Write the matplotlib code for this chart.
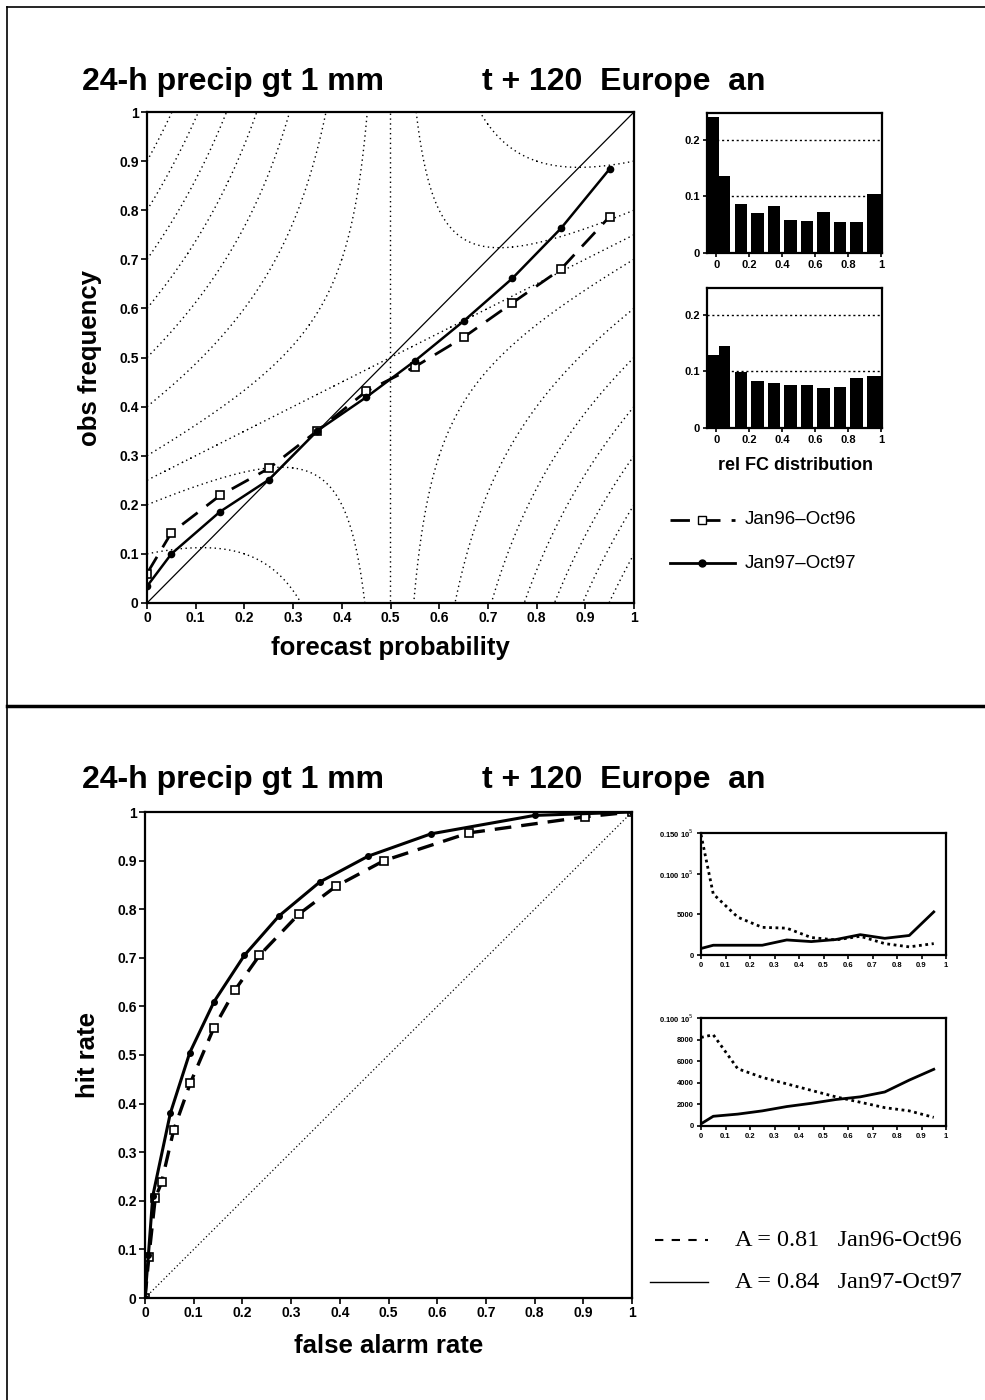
import numpy as np
import matplotlib
matplotlib.use("Agg")
import matplotlib.pyplot as plt
from matplotlib.lines import Line2D

plt.rcParams['font.family'] = ['Liberation Sans', 'DejaVu Sans']

# ---- reliability diagram data
fc_prob = [0, 0.05, 0.15, 0.25, 0.35, 0.45, 0.55, 0.65, 0.75, 0.85, 0.95]
obs_96 = [0.06, 0.143, 0.219, 0.274, 0.351, 0.431, 0.481, 0.541, 0.611, 0.680, 0.787]
obs_97 = [0.034, 0.100, 0.186, 0.251, 0.351, 0.419, 0.493, 0.574, 0.661, 0.763, 0.884]

# relative forecast distribution (insets)
hist_pos = [-0.02, 0.05, 0.15, 0.25, 0.35, 0.45, 0.55, 0.65, 0.75, 0.85, 0.958]
hist_w = [0.07, 0.07, 0.077, 0.077, 0.077, 0.077, 0.077, 0.077, 0.077, 0.077, 0.085]
freq_96 = [0.240, 0.135, 0.086, 0.070, 0.083, 0.059, 0.056, 0.073, 0.055, 0.055, 0.104]
freq_97 = [0.129, 0.144, 0.099, 0.083, 0.079, 0.075, 0.075, 0.071, 0.073, 0.088, 0.092]

# isoline levels of (p-o)^2 - (o-clim)^2
iso_levels = [-0.15, -0.05, 0, 0.05, 0.15, 0.25, 0.35, 0.45, 0.55, 0.65]
clim = 0.5

# ---- ROC data
far_96 = [0, 0.008, 0.021, 0.034, 0.059, 0.093, 0.141, 0.185, 0.235, 0.316, 0.392, 0.491, 0.665, 0.903, 1.0]
hr_96 = [0, 0.085, 0.205, 0.238, 0.346, 0.442, 0.555, 0.634, 0.705, 0.790, 0.847, 0.900, 0.957, 0.990, 1.0]
far_97 = [0, 0.007, 0.016, 0.052, 0.092, 0.142, 0.204, 0.275, 0.359, 0.458, 0.587, 0.800, 1.0]
hr_97 = [0, 0.089, 0.210, 0.380, 0.505, 0.610, 0.705, 0.786, 0.856, 0.909, 0.955, 0.993, 1.0]

# counts (ROC insets)
cnt_x = [0, 0.05, 0.15, 0.25, 0.35, 0.45, 0.55, 0.65, 0.75, 0.85, 0.95]
cnt1_dot = [14800, 7500, 4650, 3400, 3300, 2150, 1850, 2300, 1400, 1000, 1400]
cnt1_sol = [800, 1200, 1200, 1200, 1850, 1650, 1900, 2500, 2050, 2400, 5300]
cnt2_dot = [8200, 8450, 5300, 4500, 3900, 3300, 2700, 2200, 1700, 1400, 800]
cnt2_sol = [200, 900, 1100, 1400, 1800, 2100, 2450, 2700, 3150, 4250, 5250]

W, H = 985, 1400
fig = plt.figure(figsize=(W / 100, H / 100), dpi=100)


def box(l, t, r, b):
    # pixel box -> figure fraction rect
    return [l / W, 1 - b / H, (r - l) / W, (b - t) / H]


def style_ax(ax, fs, lw=1.6):
    for s in ax.spines.values():
        s.set_linewidth(lw)
    ax.tick_params(direction='out', length=4, width=1.2, labelsize=fs, pad=2)
    for lab in ax.get_xticklabels() + ax.get_yticklabels():
        lab.set_fontweight('bold')


ticks = np.round(np.arange(0, 1.01, 0.1), 1)
tick_labs = ['0'] + ['%.1f' % t for t in ticks[1:-1]] + ['1']

# frame lines
fig.add_artist(Line2D([7 / W, 1], [1 - 7 / H] * 2, transform=fig.transFigure, color='k', lw=1.2))
fig.add_artist(Line2D([7 / W] * 2, [0, 1 - 7 / H], transform=fig.transFigure, color='k', lw=1.2))
fig.add_artist(Line2D([7 / W, 1], [1 - 706 / H] * 2, transform=fig.transFigure, color='k', lw=2.5))

# ================= reliability diagram
ax = fig.add_axes(box(147, 112, 634, 603))
gx, gy = np.meshgrid(np.linspace(0, 1, 601), np.linspace(0, 1, 601))
fz = (gx - gy) ** 2 - (gy - clim) ** 2
ax.contour(gx, gy, fz, levels=iso_levels, colors='k', linewidths=1.0,
           linestyles=[(0, (1, 2.5))])
ax.plot([0, 1], [0, 1], color='k', lw=0.9)
ax.plot(fc_prob, obs_96, color='k', lw=2, dashes=(7, 4), marker='s', ms=6,
        mfc='white', mec='k', mew=1.2)
ax.plot(fc_prob, obs_97, color='k', lw=1.8, marker='o', ms=4.5, mfc='k', mec='k')
ax.set_xlim(0, 1)
ax.set_ylim(0, 1)
ax.set_xticks(ticks)
ax.set_xticklabels(tick_labs)
ax.set_yticks(ticks)
ax.set_yticklabels(tick_labs)
style_ax(ax, 10)
ax.set_xlabel('forecast probability', fontsize=18.5, fontweight='bold', labelpad=8)
ax.set_ylabel('obs frequency', fontsize=18.5, fontweight='bold', labelpad=12)

fig.text(82 / W, 1 - 82 / H, '24-h precip gt 1 mm', fontsize=23, fontweight='bold', va='center')
fig.text(482 / W, 1 - 82 / H, 't + 120  Europe  an', fontsize=23, fontweight='bold', va='center')

for k, (freq, tb) in enumerate([(freq_96, (113, 253)), (freq_97, (288, 428))]):
    hx = fig.add_axes(box(707, tb[0], 882, tb[1]))
    hx.bar(hist_pos, freq, width=hist_w, color='k', align='center')
    for g in [0.1, 0.2]:
        hx.axhline(g, color='k', lw=1, linestyle=(0, (1.5, 2)), zorder=0)
    hx.set_xlim(-0.057, 1.004)
    hx.set_ylim(0, 0.247)
    hx.set_xticks([0, 0.2, 0.4, 0.6, 0.8, 1])
    hx.set_xticklabels(['0', '0.2', '0.4', '0.6', '0.8', '1'])
    hx.set_yticks([0, 0.1, 0.2])
    hx.set_yticklabels(['0', '0.1', '0.2'])
    style_ax(hx, 8)
    hx.tick_params(length=3)

fig.text(795 / W, 1 - 466 / H, 'rel FC distribution', fontsize=13, fontweight='bold',
         ha='center', va='center')

# legend (top)
fig.add_artist(Line2D([670 / W, 735 / W], [1 - 520 / H] * 2, transform=fig.transFigure,
                      color='k', lw=2, dashes=(7, 4)))
fig.add_artist(Line2D([702 / W], [1 - 520 / H], transform=fig.transFigure, color='k',
                      marker='s', ms=5.5, mfc='white', mec='k', lw=0))
fig.add_artist(Line2D([670 / W, 735 / W], [1 - 563 / H] * 2, transform=fig.transFigure,
                      color='k', lw=2))
fig.add_artist(Line2D([702 / W], [1 - 563 / H], transform=fig.transFigure, color='k',
                      marker='o', ms=5, mfc='k', lw=0))
fig.text(745 / W, 1 - 520 / H, 'Jan96\u2013Oct96', fontsize=13.5, va='center')
fig.text(745 / W, 1 - 563 / H, 'Jan97\u2013Oct97', fontsize=13.5, va='center')

# ================= ROC diagram
ax2 = fig.add_axes(box(145, 812, 632, 1298))
ax2.plot([0, 1], [0, 1], color='k', lw=0.9, linestyle=(0, (1, 2)))
ax2.plot(far_96, hr_96, color='k', lw=2.4, dashes=(5, 3), marker='s', ms=6,
         mfc='white', mec='k', mew=1.2)
ax2.plot(far_97, hr_97, color='k', lw=2.2, marker='o', ms=4, mfc='k', mec='k')
ax2.set_xlim(0, 1)
ax2.set_ylim(0, 1)
ax2.set_xticks(ticks)
ax2.set_xticklabels(tick_labs)
ax2.set_yticks(ticks)
ax2.set_yticklabels(tick_labs)
style_ax(ax2, 10)
ax2.set_xlabel('false alarm rate', fontsize=18.5, fontweight='bold', labelpad=10)
ax2.set_ylabel('hit rate', fontsize=18.5, fontweight='bold', labelpad=12)

fig.text(82 / W, 1 - 780 / H, '24-h precip gt 1 mm', fontsize=23, fontweight='bold', va='center')
fig.text(482 / W, 1 - 780 / H, 't + 120  Europe  an', fontsize=23, fontweight='bold', va='center')

insets = [
    (cnt1_dot, cnt1_sol, (833, 955), 15000, [0, 5000, 10000, 15000],
     ['0', '5000', '0.100 10$^5$', '0.150 10$^5$']),
    (cnt2_dot, cnt2_sol, (1018, 1126), 10000, [0, 2000, 4000, 6000, 8000, 10000],
     ['0', '2000', '4000', '6000', '8000', '0.100 10$^5$']),
]
for dot, sol, tb, top, yt, ytl in insets:
    cx = fig.add_axes(box(701, tb[0], 946, tb[1]))
    cx.plot(cnt_x, dot, color='k', lw=2, linestyle=(0, (1, 1.3)))
    cx.plot(cnt_x, sol, color='k', lw=2)
    cx.set_xlim(0, 1)
    cx.set_ylim(0, top)
    cx.set_xticks(ticks)
    cx.set_xticklabels(tick_labs)
    cx.set_yticks(yt)
    cx.set_yticklabels(ytl)
    style_ax(cx, 5.5)
    cx.tick_params(length=3)

# legend (bottom)
fig.add_artist(Line2D([655 / W, 708 / W], [1 - 1240 / H] * 2, transform=fig.transFigure,
                      color='k', lw=1.5, dashes=(4, 4)))
fig.add_artist(Line2D([650 / W, 708 / W], [1 - 1282 / H] * 2, transform=fig.transFigure,
                      color='k', lw=1))
fig.text(735 / W, 1 - 1240 / H, 'A = 0.81   Jan96-Oct96', family='Liberation Serif',
         fontsize=17.5, va='center')
fig.text(735 / W, 1 - 1282 / H, 'A = 0.84   Jan97-Oct97', family='Liberation Serif',
         fontsize=17.5, va='center')

fig.savefig('out.png', dpi=100)
plt.close(fig)
